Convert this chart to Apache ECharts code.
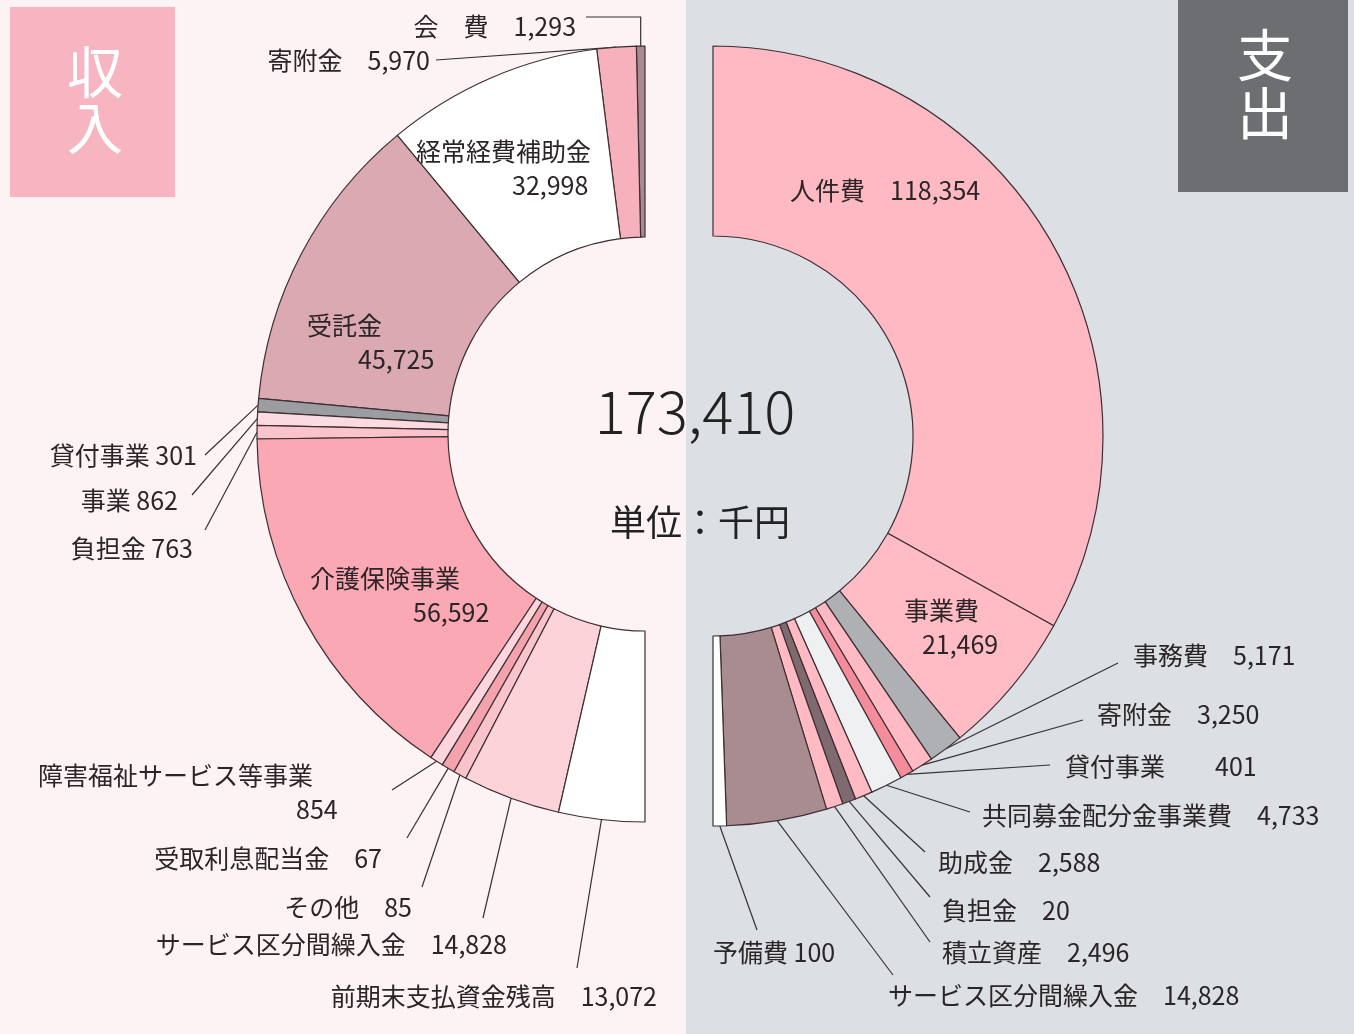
<!DOCTYPE html>
<html lang="ja">
<head>
<meta charset="UTF-8">
<title>収入・支出</title>
<script src="https://cdn.jsdelivr.net/npm/echarts@6/dist/echarts.min.js"></script>
<style>
  html, body { margin: 0; padding: 0; background: #fdf3f5; }
  #main { width: 1354px; height: 1034px; }
</style>
</head>
<body>
<div id="main"></div>
<script>
// 収入 (左半分, 上から反時計回り)
var incomeNames = ["会　費", "寄附金", "経常経費補助金", "受託金", "貸付事業", "事業", "負担金",
  "介護保険事業", "障害福祉サービス等事業", "受取利息配当金", "その他", "サービス区分間繰入金", "前期末支払資金残高"];
var incomeValues = [1293, 5970, 32998, 45725, 301, 862, 763, 56592, 854, 67, 85, 14828, 13072];

// 支出 (右半分, 上から時計回り)
var expenseNames = ["人件費", "事業費", "事務費", "寄附金", "貸付事業", "共同募金配分金事業費",
  "助成金", "負担金", "積立資産", "サービス区分間繰入金", "予備費"];
var expenseValues = [118354, 21469, 5171, 3250, 401, 4733, 2588, 20, 2496, 14828, 100];

var totalText = "173,410";
var unitText = "単位：千円";

var incomeColors = ['#a88b90', '#f7b1bd', '#ffffff', '#dba9b2', '#9b9da1', '#fcdbe0', '#fbc3cc',
  '#f9a8b4', '#fcd6dc', '#f4a3ae', '#f9c3cb', '#fcd3d9', '#ffffff'];
var expenseColors = ['#ffb9c3', '#ffbcc5', '#aeb0b4', '#ffbac4', '#f48c9b', '#eef0f2',
  '#ffbac4', '#7f6a6f', '#ffbac4', '#a98c90', '#ffffff'];

// label placement (x, y = text anchor, end = where the leader line meets the text)
var incomeLabelPos = [
  { x: 576, y: 26, align: 'right', end: [586, 17], elbow: 'v', sep: '　' },
  { x: 430, y: 60, align: 'right', end: [436, 60], sep: '　' },
  { x: 416, y: 168, align: 'left', inside: true, indent: 96 },
  { x: 307, y: 342, align: 'left', inside: true, indent: 51 },
  { x: 197, y: 455, align: 'right', end: [205, 455], sep: ' ' },
  { x: 178, y: 500, align: 'right', end: [192, 495], sep: ' ' },
  { x: 193, y: 548, align: 'right', end: [205, 530], sep: ' ' },
  { x: 310, y: 595, align: 'left', inside: true, indent: 103 },
  { x: 38, y: 792, align: 'left', end: [392, 790], indent: 258 },
  { x: 382, y: 858, align: 'right', end: [407, 838], sep: '　' },
  { x: 412, y: 907, align: 'right', end: [422, 887], sep: '　' },
  { x: 507, y: 944, align: 'right', end: [483, 918], sep: '　' },
  { x: 657, y: 996, align: 'right', end: [577, 968], sep: '　' }
];
var expenseLabelPos = [
  { x: 790, y: 190, align: 'left', inside: true, sep: '　' },
  { inside: true, auto: true, indent: 37 },
  { x: 1133, y: 655, align: 'left', end: [1118, 663], sep: '　' },
  { x: 1097, y: 714, align: 'left', end: [1083, 720], sep: '　' },
  { x: 1065, y: 766, align: 'left', end: [1050, 765], sep: '　　' },
  { x: 982, y: 815, align: 'left', end: [970, 812], sep: '　' },
  { x: 938, y: 862, align: 'left', end: [925, 852], sep: '　' },
  { x: 942, y: 910, align: 'left', end: [930, 897], sep: '　' },
  { x: 942, y: 952, align: 'left', end: [930, 942], sep: '　' },
  { x: 888, y: 995, align: 'left', end: [893, 975], sep: '　' },
  { x: 713, y: 952, align: 'left', end: [757, 930], sep: ' ' }
];

var FONT = '"Noto Sans CJK JP", "Noto Sans", sans-serif';
var TXT = '#2b2527';

function fmt(v) {
  return String(v).replace(/\B(?=(\d{3})+(?!\d))/g, ',');
}

function buildData(names, values, colors, pos) {
  return names.map(function (n, i) {
    var c = pos[i];
    var item = {
      name: n,
      value: values[i],
      itemStyle: { color: colors[i] },
      label: { position: c.inside ? 'inside' : 'outside' },
      labelLine: { show: !c.inside }
    };
    if (c.indent != null) {
      item.label.rich = {
        n: { fontSize: 25, fontFamily: FONT, color: TXT, lineHeight: 34 },
        v: { fontSize: 25, fontFamily: FONT, color: TXT, lineHeight: 34, padding: [0, 0, 0, c.indent] }
      };
    }
    return item;
  });
}

function makeFormatter(pos) {
  return function (p) {
    var c = pos[p.dataIndex];
    var v = fmt(p.value);
    if (c.indent != null) return '{n|' + p.name + '}\n{v|' + v + '}';
    return p.name + c.sep + v;
  };
}

function makeLayout(pos) {
  return function (params) {
    var c = pos[params.dataIndex];
    if (!c || c.auto) return {};
    var out = { x: c.x, y: c.y, align: c.align, verticalAlign: 'middle' };
    if (c.end) {
      var pts = params.labelLinePoints;
      var e = pts && pts[0] ? pts[0] : [params.rect.x + params.rect.width / 2, params.rect.y + params.rect.height / 2];
      var line = [e];
      if (c.elbow === 'v') line.push([e[0], c.end[1]]);
      line.push(c.end);
      out.labelLinePoints = line;
    }
    return out;
  };
}

var labelBase = {
  fontSize: 25,
  fontFamily: FONT,
  color: TXT,
  lineHeight: 34
};
var lineBase = { show: true, lineStyle: { color: '#333', width: 1.2 } };

var chart = echarts.init(document.getElementById('main'));
var option = {
  animation: false,
  backgroundColor: '#fdf3f5',
  graphic: [
    { type: 'rect', z: -10, shape: { x: 0, y: 0, width: 686, height: 1034 }, style: { fill: '#fdf3f5' } },
    { type: 'rect', z: -10, shape: { x: 686, y: 0, width: 668, height: 1034 }, style: { fill: '#dcdfe3' } },
    { type: 'rect', shape: { x: 10, y: 7, width: 165, height: 190 }, style: { fill: '#f6b5c0' } },
    { type: 'text', x: 95, y: 72, style: { text: '収', fill: '#fff', font: '56px ' + FONT, align: 'center', verticalAlign: 'middle' } },
    { type: 'text', x: 95, y: 128, style: { text: '入', fill: '#fff', font: '56px ' + FONT, align: 'center', verticalAlign: 'middle' } },
    { type: 'rect', shape: { x: 1178, y: 0, width: 170, height: 192 }, style: { fill: '#6c6e71' } },
    { type: 'text', x: 1265, y: 55, style: { text: '支', fill: '#fff', font: '56px ' + FONT, align: 'center', verticalAlign: 'middle' } },
    { type: 'text', x: 1265, y: 113, style: { text: '出', fill: '#fff', font: '56px ' + FONT, align: 'center', verticalAlign: 'middle' } },
    { type: 'text', x: 695, y: 412, style: { text: totalText, fill: '#222', font: '300 58px ' + FONT, align: 'center', verticalAlign: 'middle' } },
    { type: 'text', x: 700, y: 522, style: { text: unitText, fill: '#222', font: '36px ' + FONT, align: 'center', verticalAlign: 'middle' } }
  ],
  series: [
    {
      name: '収入',
      type: 'pie',
      center: [645, 434],
      radius: [197, 388],
      startAngle: 90,
      endAngle: 270,
      clockwise: false,
      minAngle: 2,
      avoidLabelOverlap: false,
      itemStyle: { borderColor: '#3d2f33', borderWidth: 1.2 },
      label: Object.assign({ formatter: makeFormatter(incomeLabelPos) }, labelBase),
      labelLine: lineBase,
      labelLayout: makeLayout(incomeLabelPos),
      emphasis: { disabled: true },
      data: buildData(incomeNames, incomeValues, incomeColors, incomeLabelPos)
    },
    {
      name: '支出',
      type: 'pie',
      center: [713, 436],
      radius: [200, 390],
      startAngle: 90,
      endAngle: -90,
      clockwise: true,
      minAngle: 2,
      avoidLabelOverlap: false,
      itemStyle: { borderColor: '#3d2f33', borderWidth: 1.2 },
      label: Object.assign({ formatter: makeFormatter(expenseLabelPos) }, labelBase),
      labelLine: lineBase,
      labelLayout: makeLayout(expenseLabelPos),
      emphasis: { disabled: true },
      data: buildData(expenseNames, expenseValues, expenseColors, expenseLabelPos)
    }
  ]
};
chart.setOption(option);
window.addEventListener('resize', function () { chart.resize(); });
</script>
</body>
</html>
